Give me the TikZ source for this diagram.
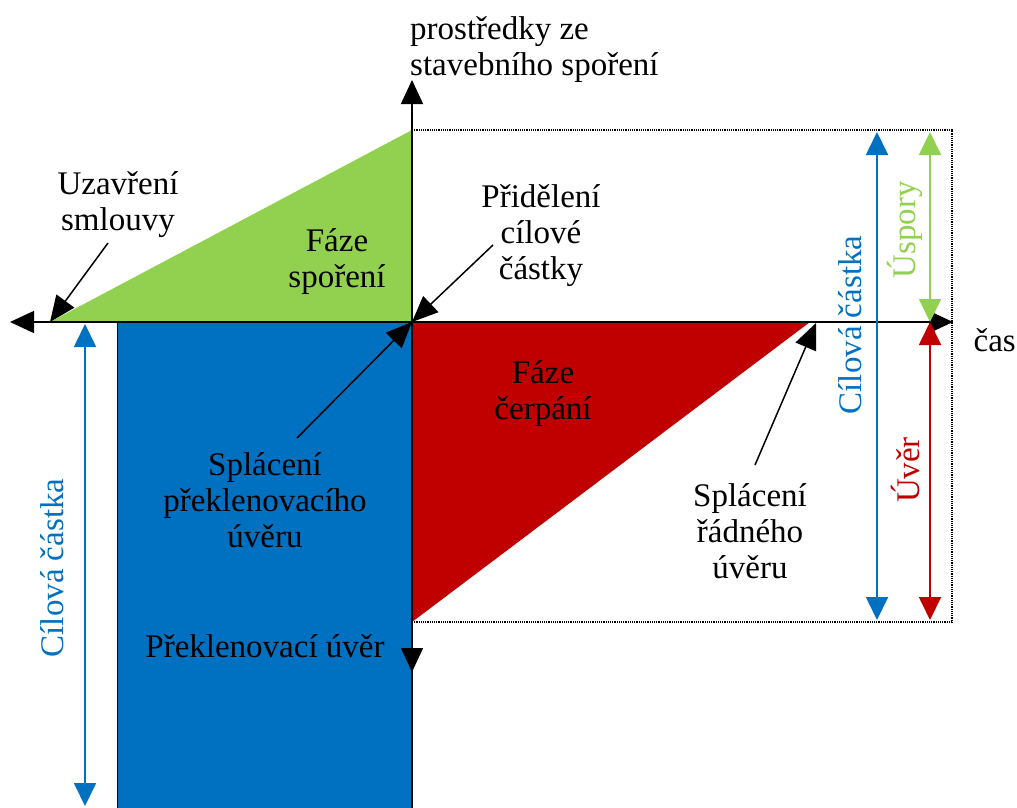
\documentclass[tikz,border=0pt]{standalone}
\usepackage{fontspec}
\setmainfont{Liberation Serif}
\usepackage{tikz}
\usetikzlibrary{positioning,arrows.meta,calc}
\definecolor{uspory}{HTML}{92D050}
\definecolor{uver}{HTML}{C00000}
\definecolor{cilova}{HTML}{0070C0}
\tikzstyle{label} = [inner sep=0pt, align=center, font=\fontsize{33}{36}\selectfont]
\tikzstyle{pointer} = [line width=1.5pt,-{Triangle[length=26pt,width=22pt]}]
\tikzstyle{axis} = [line width=1.5pt,-{Triangle[length=24pt,width=22pt]}]
\tikzstyle{span} = [line width=1.8pt,{Triangle[length=23pt,width=22pt]}-{Triangle[length=23pt,width=22pt]}]
\tikzstyle{guide} = [densely dotted, line width=1.2pt]

\begin{document}
\begin{tikzpicture}[x=1pt, y=-1pt]
            \useasboundingbox (0,0) rectangle (1017,808);
            % key points
            \coordinate (O) at (412,322);
            \coordinate (start) at (50,322);
            \coordinate (top) at (412,130);
            \coordinate (end) at (810,322);
            \coordinate (low) at (412,622);

            % phases
            \fill[uspory] (start) -- (O) -- (top) -- cycle;
            \fill[uver] (O) -- (end) -- (low) -- cycle;
            \filldraw[fill=cilova, draw=black, line width=1pt] (117,322) rectangle (412,812);
            \draw[guide] (top) -- (952,130) -- (952,622) -- (low);

            % axes
            \draw[axis] (412,812) -- (412,80);
            \draw[axis] (412,560) -- (412,672);
            \draw[axis] (953,322) -- (10,322);
            \draw[axis] (O) -- (953,322);

            % spans
            \draw[span, cilova] (877,132) -- (877,620);
            \draw[span, uspory] (930,132) -- (930,322);
            \draw[span, uver] (930,322) -- (930,620);
            \draw[span, cilova] (85,324) -- (85,806);

            % texts
            \node[label, anchor=west, align=left] (prostredky) at (410,50) {prostředky ze\\stavebního spoření};
            \node[label, anchor=east] (cas) at (1016,340) {čas};
            \node[label] (uzavreni) at (118,205) {Uzavření\\smlouvy};
            \node[label] (sporeni) at (337,262) {Fáze\\spoření};
            \node[label] (prideleni) at (541,236) {Přidělení\\cílové\\částky};
            \node[label] (preklenovaci) at (265,500) {Splácení\\překlenovacího\\úvěru};
            \node[label] (cerpani) at (543,394) {Fáze\\čerpání};
            \node[label] (radny) at (750,531) {Splácení\\řádného\\úvěru};
            \node[label] (preklenuver) at (265,646) {Překlenovací úvěr};
            \node[label, rotate=90, text=cilova] (cilova1) at (850,325) {Cílová částka};
            \node[label, rotate=90, text=uspory] (usporytxt) at (905,230) {Úspory};
            \node[label, rotate=90, text=uver] (uvertxt) at (905,470) {Úvěr};
            \node[label, rotate=90, text=cilova] (cilova2) at (52,568) {Cílová částka};

            % pointers
            \draw[pointer] (108,243) -- (start);
            \draw[pointer] (493,245) -- (O);
            \draw[pointer] (297,438) -- (O);
            \draw[pointer] (755,465) -- (816,323);
\end{tikzpicture}
\end{document}
